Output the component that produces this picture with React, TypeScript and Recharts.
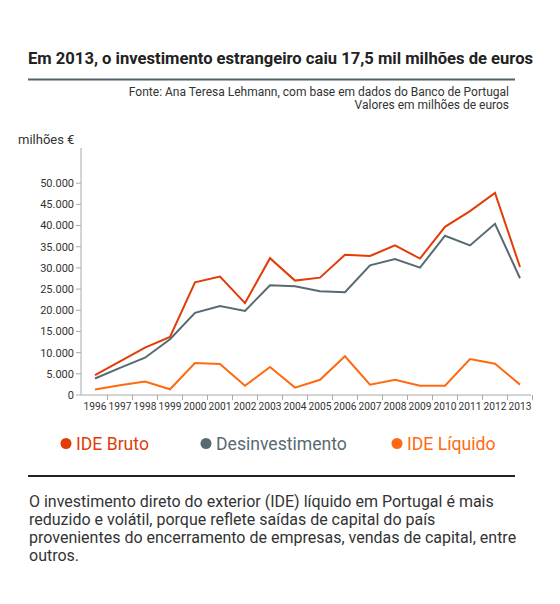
import { LineChart, Line, XAxis, YAxis } from "recharts";

const years = [
  "1996", "1997", "1998", "1999", "2000", "2001", "2002", "2003", "2004",
  "2005", "2006", "2007", "2008", "2009", "2010", "2011", "2012", "2013",
];
const ideBruto = [
  4700, 7950, 11200, 13700, 26600, 27950, 21700, 32300, 27000,
  27700, 33100, 32800, 35300, 32200, 39700, 43400, 47700, 30200,
];
const desinvestimento = [
  3900, 6400, 8800, 13150, 19400, 21000, 19850, 25900, 25650,
  24500, 24250, 30600, 32100, 30050, 37600, 35300, 40400, 27550,
];
const ideLiquido = [
  1300, 2300, 3200, 1350, 7550, 7300, 2200, 6600, 1750,
  3600, 9150, 2450, 3600, 2200, 2200, 8500, 7400, 2450,
];
const yTicks = [0, 5000, 10000, 15000, 20000, 25000, 30000, 35000, 40000, 45000, 50000];

const series = [
  { key: "bruto", name: "IDE Bruto", color: "#e23c08", legendX: 66 },
  { key: "desinv", name: "Desinvestimento", color: "#566b71", legendX: 206 },
  { key: "liquido", name: "IDE Líquido", color: "#ff6a10", legendX: 397 },
];

const note = [
  "O investimento direto do exterior (IDE) líquido em Portugal é mais",
  "reduzido e volátil, porque reflete saídas de capital do país",
  "provenientes do encerramento de empresas, vendas de capital, entre",
  "outros.",
];

const data = years.map((year, i) => ({
  year,
  bruto: ideBruto[i],
  desinv: desinvestimento[i],
  liquido: ideLiquido[i],
}));

const FONT = "Roboto, 'Noto Sans', sans-serif";
const AXIS = "#aaaaaa";

const fmt = (v: number) => String(v).replace(/\B(?=(\d{3})+(?!\d))/g, ".");

// year labels sit in the middle of each slot, tick marks on the slot edges
const YearTick = ({ x, y, payload }: any) => (
  <g>
    <line x1={x + 12.5} x2={x + 12.5} y1={y - 7} y2={y - 2} stroke={AXIS} />
    <text x={x} y={y + 8} textAnchor="middle" fontSize={10.2} fill="#333" fontFamily={FONT}>
      {payload.value}
    </text>
  </g>
);

export default function App() {
  return (
    <div style={{ position: "absolute", left: 0, top: 0, width: 560, height: 604, background: "#fff", fontFamily: FONT }}>
      <svg width={560} height={604} style={{ position: "absolute", left: 0, top: 0 }}>
        <text x={28} y={63.5} fontSize={16.6} fontWeight="bold" fill="#222" fontFamily={FONT}>
          Em 2013, o investimento estrangeiro caiu 17,5 mil milhões de euros
        </text>
        <line x1={28} x2={515} y1={79.5} y2={79.5} stroke="#4f6369" strokeWidth={2} />
        <text x={509} y={96} textAnchor="end" fontSize={12} fill="#333" fontFamily={FONT}>
          Fonte: Ana Teresa Lehmann, com base em dados do Banco de Portugal
        </text>
        <text x={509} y={108.5} textAnchor="end" fontSize={12} fill="#333" fontFamily={FONT}>
          Valores em milhões de euros
        </text>
        <text x={18} y={144} fontSize={13} fill="#333" fontFamily={FONT}>
          milhões €
        </text>

        {series.map((s) => (
          <g key={s.key}>
            <circle cx={s.legendX} cy={443.5} r={5.5} fill={s.color} />
            <text x={s.legendX + 10} y={450} fontSize={17.6} fill={s.color} fontFamily={FONT}>
              {s.name}
            </text>
          </g>
        ))}

        <line x1={28} x2={515} y1={476} y2={476} stroke="#222" strokeWidth={2} />
        {note.map((t, i) => (
          <text key={i} x={29} y={506.5 + i * 18.2} fontSize={16} fill="#333" fontFamily={FONT}>
            {t}
          </text>
        ))}
      </svg>

      <div style={{ position: "absolute", left: 0, top: 130 }}>
        <LineChart width={560} height={300} data={data} margin={{ top: 18, right: 29, left: 0, bottom: 5 }}>
          <XAxis
            dataKey="year"
            height={30}
            padding={{ left: 14, right: 11 }}
            interval={0}
            stroke={AXIS}
            tickLine={false}
            tickSize={5}
            tickMargin={2}
            tick={<YearTick />}
          />
          <YAxis
            width={81}
            domain={[0, 58300]}
            ticks={yTicks}
            interval={0}
            stroke={AXIS}
            tickSize={5}
            tickMargin={2}
            tick={{ fontSize: 11, fill: "#333", fontFamily: FONT }}
            tickFormatter={fmt}
          />
          {series.map((s) => (
            <Line
              key={s.key}
              type="linear"
              dataKey={s.key}
              name={s.name}
              stroke={s.color}
              strokeWidth={2}
              dot={false}
              activeDot={false}
              isAnimationActive={false}
            />
          ))}
        </LineChart>
      </div>
    </div>
  );
}
